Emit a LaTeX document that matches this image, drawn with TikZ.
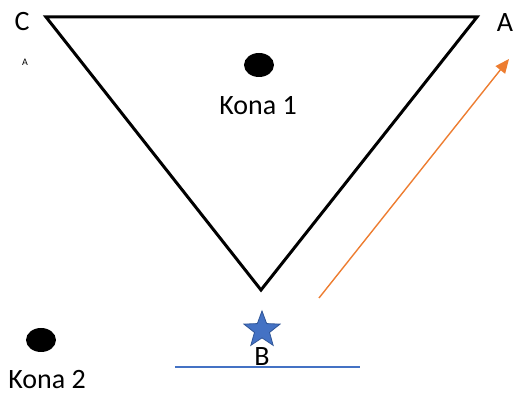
\documentclass[tikz,border=0pt]{standalone}
\usepackage{fontspec}
\setmainfont{Carlito}
\usepackage{tikz}
\usetikzlibrary{arrows.meta,shapes.geometric}
\definecolor{blueline}{HTML}{4472C4}
\definecolor{bluestar}{HTML}{2F5597}
\definecolor{orangearrow}{HTML}{ED7D31}

\begin{document}
\begin{tikzpicture}[x=0.5pt,y=-0.5pt,
    lbl/.style={font=\fontsize{14}{16}\selectfont,inner sep=0pt},
    kona/.style={ellipse,fill=black,inner sep=0pt,minimum width=15pt,minimum height=12pt}]
  \useasboundingbox (0,0) rectangle (516,394);
  % triangle corners
  \coordinate (c) at (46,17); \coordinate (a) at (477,17); \coordinate (b) at (261,290);
  \draw[line width=1.5pt,line join=miter] (c) -- (a) -- (b) -- cycle;
  \node[lbl] (clbl) at (22,22){C}; \node[lbl] (albl) at (505,23){A};
  \node[font=\fontsize{5}{6}\selectfont,inner sep=0pt] (small) at (25,62){A};
  % cones
  \node[kona] (kona1) at (259,65){}; \node[lbl] (kona1lbl) at (258,106){Kona 1};
  \node[kona] (kona2) at (41,340){}; \node[lbl] (kona2lbl) at (47,380){Kona 2};
  % start
  \node[star,star points=5,star point ratio=2.4,minimum size=19pt,inner sep=0pt,
    fill=blueline,draw=bluestar,line width=0.4pt] (start) at (262,330){};
  \node[lbl] (blbl) at (262,357){B};
  \coordinate (linel) at (175,367); \coordinate (liner) at (360,367);
  \draw[blueline,line width=0.8pt] (linel) -- (liner);
  % run
  \coordinate (runs) at (319,298); \coordinate (rune) at (509,59);
  \draw[orangearrow,line width=0.7pt,-{Triangle[length=7pt,width=6pt]}] (runs) -- (rune);
\end{tikzpicture}
\end{document}
